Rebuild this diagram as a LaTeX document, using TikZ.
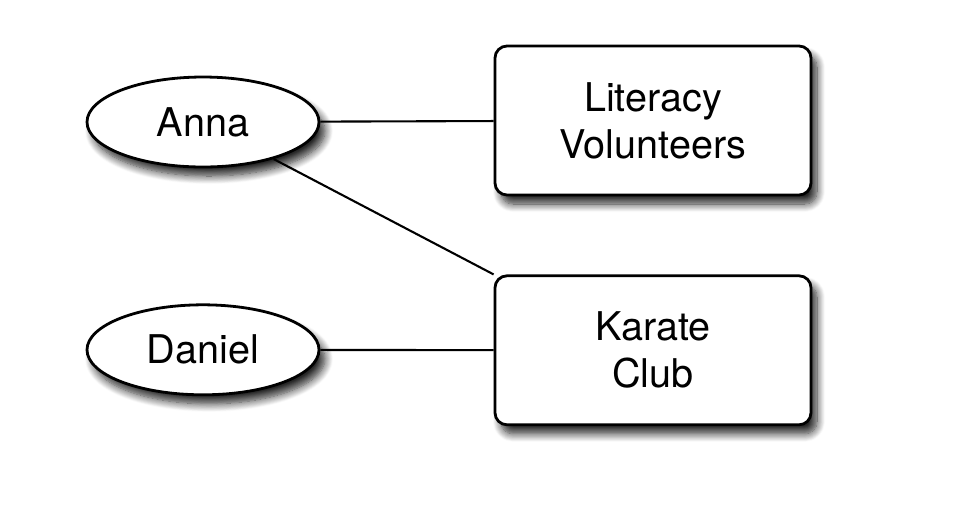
\documentclass[tikz,border=0pt]{standalone}
\usepackage{fontspec}
\setmainfont{TeX Gyre Heros}
\usepackage{tikz}
\usetikzlibrary{shapes,shadows,shadows.blur}
\usetikzlibrary{positioning,shapes.geometric}

\begin{document}
\begin{tikzpicture}[x=0.5pt, y=-0.5pt, -, line width=1.05pt, node distance=67.5pt and 88pt,
	person/.style={ellipse, inner sep=0pt, minimum width=116pt, minimum height=45pt, draw, line width=1.4pt, fill=white,
		blur shadow={shadow xshift=3pt, shadow yshift=-4.5pt, shadow blur radius=4pt, shadow blur steps=10, shadow opacity=85}},
	club/.style={rectangle, rounded corners=6pt, inner sep=0pt, minimum width=158pt, minimum height=74.5pt, draw, line width=1.4pt, fill=white, align=center,
		blur shadow={shadow xshift=3pt, shadow yshift=-4.5pt, shadow blur radius=4pt, shadow blur steps=10, shadow opacity=85}},
	font=\fontsize{19.8}{23.5}\selectfont]
	\useasboundingbox (0,0) rectangle (960,511);
	\node[person] (anna) at (203,122)                                  {Anna};
	\node[person] (daniel) [below=of anna]                             {Daniel};
	\node[club] (literacy) at (653,120.5)                              {Literacy\\Volunteers};
	\node[club] (karate) [node distance=39pt, below=of literacy]       {Karate\\Club};
	
	
	\path 	(anna) edge                   	(literacy)
	(anna) edge                   	(karate.north west)
	(daniel) edge                   (karate);
	
	\end{tikzpicture}
\end{document}
